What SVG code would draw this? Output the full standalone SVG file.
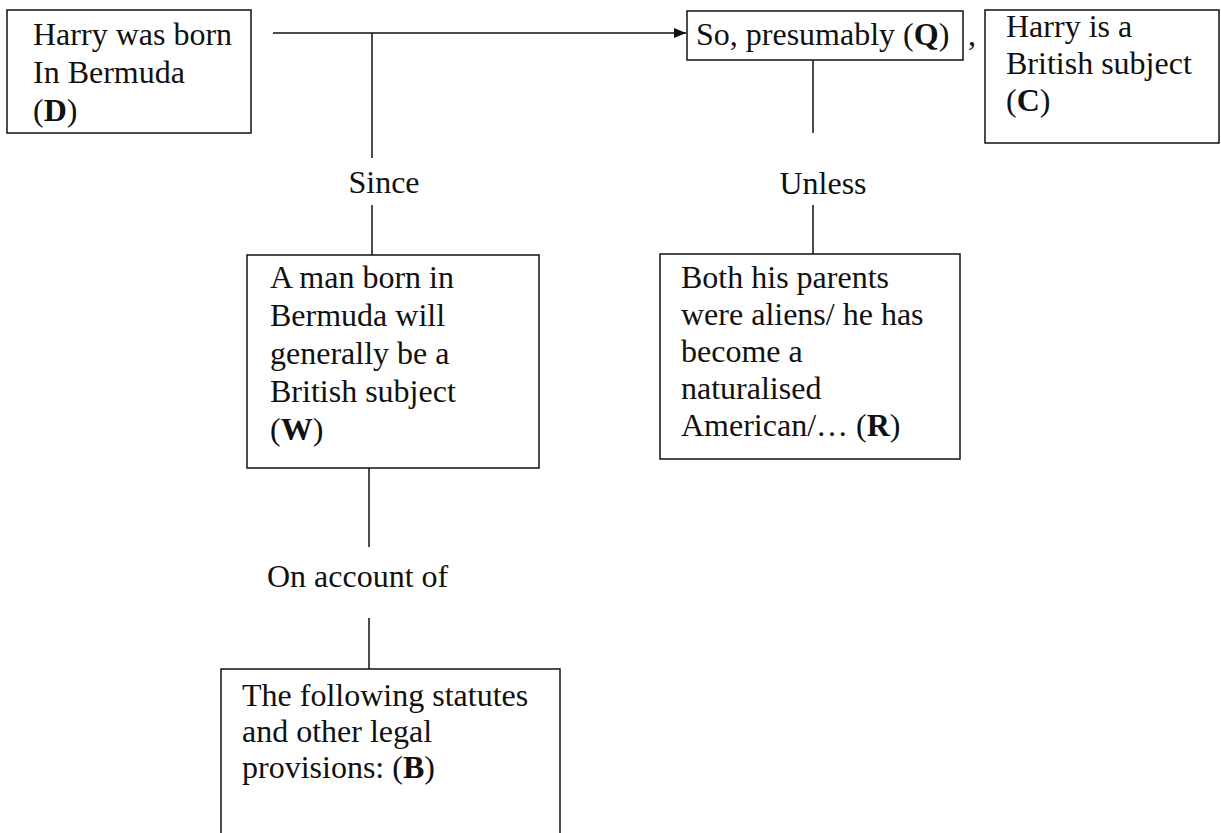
<svg xmlns="http://www.w3.org/2000/svg" width="1221" height="833" viewBox="0 0 1221 833">
<defs>
<style>
.box{fill:#fff;stroke:#111;stroke-width:1.5}
.ln{stroke:#111;stroke-width:1.5;fill:none}
text{font-family:"Liberation Serif","Times New Roman",serif;font-size:32px;fill:#111}
.b{font-weight:bold}
</style>
<marker id="ah" viewBox="0 0 12 10" refX="12" refY="5" markerWidth="12" markerHeight="10" markerUnits="userSpaceOnUse" orient="auto">
<path d="M0,0 L12,5 L0,10 Z" fill="#111"/>
</marker>
</defs>
<rect width="1221" height="833" fill="#fff"/>
<g id="connectors">
<line class="ln" x1="273" y1="33" x2="686" y2="33" marker-end="url(#ah)"/>
<line class="ln" x1="372" y1="33" x2="372" y2="158"/>
<line class="ln" x1="372" y1="205" x2="372" y2="255"/>
<line class="ln" x1="813" y1="60" x2="813" y2="133"/>
<line class="ln" x1="813" y1="205" x2="813" y2="254"/>
<line class="ln" x1="369" y1="468" x2="369" y2="547"/>
<line class="ln" x1="369" y1="618" x2="369" y2="669"/>
<text x="384" y="193" text-anchor="middle">Since</text>
<text x="823" y="194" text-anchor="middle">Unless</text>
<text x="267" y="587">On account of</text>
</g>
<g id="D">
<rect class="box" x="7" y="10" width="244" height="123"/>
<text x="33" y="45">Harry was born</text>
<text x="33" y="83">In Bermuda</text>
<text x="33" y="121">(<tspan class="b">D</tspan>)</text>
</g>
<g id="Q">
<rect class="box" x="687" y="11" width="276" height="49"/>
<text x="696" y="45">So, presumably (<tspan class="b">Q</tspan>)</text>
<text x="968" y="45">,</text>
</g>
<g id="C">
<rect class="box" x="985" y="10" width="234" height="133"/>
<text x="1006" y="37">Harry is a</text>
<text x="1006" y="74">British subject</text>
<text x="1006" y="111">(<tspan class="b">C</tspan>)</text>
</g>
<g id="W">
<rect class="box" x="247" y="255" width="292" height="213"/>
<text x="270" y="288">A man born in</text>
<text x="270" y="326">Bermuda will</text>
<text x="270" y="364">generally be a</text>
<text x="270" y="402">British subject</text>
<text x="270" y="440">(<tspan class="b">W</tspan>)</text>
</g>
<g id="R">
<rect class="box" x="660" y="254" width="300" height="205"/>
<text x="681" y="288">Both his parents</text>
<text x="681" y="325">were aliens/ he has</text>
<text x="681" y="362">become a</text>
<text x="681" y="399">naturalised</text>
<text x="681" y="436">American/… (<tspan class="b">R</tspan>)</text>
</g>
<g id="B">
<path class="ln" d="M221,833 V669 H560 V833"/>
<text x="242" y="706">The following statutes</text>
<text x="242" y="742">and other legal</text>
<text x="242" y="778">provisions: (<tspan class="b">B</tspan>)</text>
</g>
</svg>
